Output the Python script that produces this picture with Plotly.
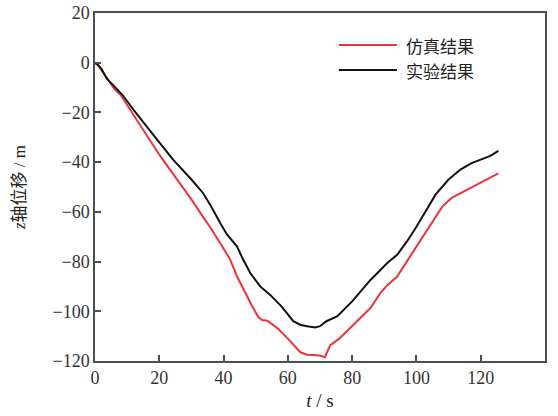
import plotly.graph_objects as go

# Simulation results (仿真结果)
sim_t = [0, 1, 2, 4, 6, 8, 10, 13, 16.2, 20, 25, 30, 33.6, 36, 38.9, 42, 44.2, 46.5, 48.9, 50.8, 52, 53.6,
         57, 60, 62, 63.9, 66, 68, 70, 71.5, 73.2, 76, 80, 83, 85.7, 88.8, 91, 94, 97, 99, 101, 103.7,
         106, 108, 110, 111, 113, 116, 120, 123, 125.5]
sim_z = [0, -1, -3, -7, -10.5, -13, -17, -23, -29.3, -37, -46, -55, -62, -66.5, -72.5, -79, -86, -92, -98,
         -102.3, -103.5, -103.8, -107, -111, -114, -116.5, -117.5, -117.8, -117.8, -118.5, -113.6, -111,
         -106, -102, -98.7, -92.6, -89.5, -86, -80, -76, -72, -66.5, -62, -58, -55.5, -54.4, -53, -51, -48.5,
         -46.5, -44.5]

# Experimental results (实验结果)
exp_t = [0, 1, 2, 3.7, 6, 8.7, 12, 16.2, 20, 24.3, 28, 30, 33.6, 36, 38.9, 41, 44.2, 46, 48.3, 51.4, 54.5,
         58, 61.7, 64, 66, 68.5, 70, 72, 75.4, 77.9, 80, 83, 85.7, 88.8, 91, 94, 97, 100, 103.7, 106, 110,
         113.7, 117, 120, 123, 125.5]
exp_z = [0, -1, -2.5, -6.4, -9.5, -13.2, -19, -26, -32, -39, -44, -47, -52.4, -57.5, -64.4, -69, -74, -79,
         -84.6, -90, -93.4, -98, -104, -105.5, -106, -106.5, -106, -104, -102, -98.7, -96, -91.5, -87.4,
         -83.4, -80.5, -77.3, -72, -66, -58, -53, -47, -43, -40.5, -39, -37.5, -35.5]

x_ticks = [0, 20, 40, 60, 80, 100, 120, 140]
y_ticks = [20, 0, -20, -40, -60, -80, -100, -120]
names = ["仿真结果", "实验结果"]
colors = ["#ee3338", "#111111"]

fig = go.Figure()
fig.add_trace(go.Scatter(x=sim_t, y=sim_z, mode="lines", name=names[0],
                         line=dict(color=colors[0], width=2)))
fig.add_trace(go.Scatter(x=exp_t, y=exp_z, mode="lines", name=names[1],
                         line=dict(color=colors[1], width=2)))

serif = "Liberation Serif, Times New Roman, DejaVu Serif, serif"
cjk = "Noto Sans CJK SC"
axis_common = dict(showline=True, linecolor="#4a4f57", linewidth=1.5, mirror=True,
                   ticks="inside", ticklen=6, tickcolor="#4a4f57", tickwidth=1.5,
                   showgrid=False, zeroline=False, automargin=False,
                   tickfont=dict(family=serif, size=18, color="#333"))

fig.update_layout(
    width=558, height=416,
    margin=dict(l=95, r=13, t=13, b=55),
    paper_bgcolor="white", plot_bgcolor="white",
    showlegend=False,
    xaxis=dict(range=[0, 140], tickvals=x_ticks, **axis_common,
               title=dict(text="<i>t</i> / s", font=dict(family=serif, size=19, color="#222"), standoff=6)),
    yaxis=dict(range=[-120, 20], tickvals=y_ticks, **axis_common,
               title=dict(text="<i>z</i>轴位移 / m", font=dict(family="Liberation Serif, " + cjk, size=17, color="#222"),
                          standoff=23)),
)

# Legend drawn in paper coordinates
leg_y = [0.908, 0.836]
for i in range(2):
    fig.add_shape(type="line", xref="paper", yref="paper", x0=0.542, x1=0.671, y0=leg_y[i], y1=leg_y[i],
                  line=dict(color=colors[i], width=2))
    fig.add_annotation(xref="paper", yref="paper", x=0.686, y=leg_y[i], xanchor="left", yanchor="middle",
                       text=names[i], showarrow=False, font=dict(family=cjk, size=17, color="#222"))

fig.write_html("out.html")
